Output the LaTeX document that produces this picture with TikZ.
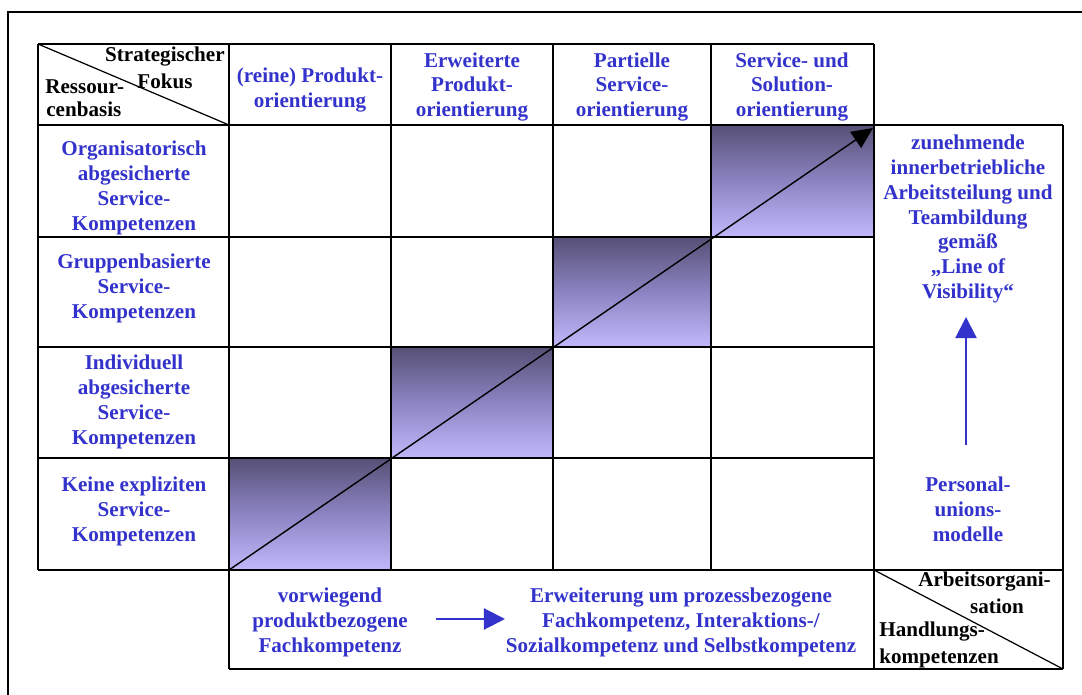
\documentclass[tikz,border=0pt]{standalone}
\usepackage{fontspec}
\setmainfont{Liberation Serif}
\usetikzlibrary{arrows.meta}
\definecolor{labelblue}{RGB}{51,51,204}
\definecolor{cellDark}{RGB}{86,80,118}
\definecolor{cellMid}{RGB}{140,132,194}
\definecolor{cellLight}{RGB}{192,184,250}
\tikzset{
  lbl/.style={align=center, inner sep=0pt, text=labelblue,
    font=\bfseries\fontsize{12}{14.2}\selectfont},
  corner/.style={inner sep=0pt, font=\bfseries\fontsize{12}{14.2}\selectfont},
  grid/.style={line width=0.7pt},
  stepcell/.style={top color=cellDark, bottom color=cellLight, middle color=cellMid},
  bluearrow/.style={labelblue, line width=1.2pt, -{Triangle[length=12pt, width=12pt]}}
}
\begin{document}
\begin{tikzpicture}[x=0.02cm, y=-0.02cm]
  \useasboundingbox (0,0) rectangle (1082,695);
  % Draw the outer frame.
  \draw[line width=1.2pt] (8,695) -- (8,12) -- (1082,12);
  % Shade the diagonal cells.
  \shade[stepcell] (229,458) rectangle (391,570);
  \shade[stepcell] (391,347) rectangle (553,458);
  \shade[stepcell] (553,237) rectangle (711,347);
  \shade[stepcell] (711,125) rectangle (874,237);
  % Draw the grid of the matrix.
  \draw[grid] (38,44) -- (874,44);
  \draw[grid] (38,125) -- (1063,125);
  \foreach \y in {237,347,458}
    \draw[grid] (38,\y) -- (874,\y);
  \draw[grid] (38,570) -- (1063,570);
  \draw[grid] (229,669) -- (1063,669);
  \draw[grid] (38,44) -- (38,570);
  \foreach \x in {391,553,711}
    \draw[grid] (\x,44) -- (\x,570);
  \draw[grid] (229,44) -- (229,669);
  \draw[grid] (874,44) -- (874,669);
  \draw[grid] (1063,125) -- (1063,669);
  % Split the two corner cells.
  \draw[grid] (38,44) -- (229,125);
  \draw[grid] (874,570) -- (1063,669);
  % Label the corner cells.
  \node[corner, anchor=east] (strat) at (225,57) {Strategischer};
  \node[corner] (fokus) at (165,81) {Fokus};
  \node[corner, anchor=west] (ress) at (45,87) {Ressour-};
  \node[corner, anchor=west] (cenb) at (46,109) {cenbasis};
  \node[corner, anchor=west] (arbo) at (918,582) {Arbeitsorgani-};
  \node[corner] (sati) at (997,606) {sation};
  \node[corner, anchor=west] (hand) at (879,632) {Handlungs-};
  \node[corner, anchor=west] (komp) at (879,658) {kompetenzen};
  % Label the columns.
  \node[lbl] (prod) at (310,90) {(reine) Produkt-\\orientierung};
  \node[lbl] (erwp) at (472,87) {Erweiterte\\Produkt-\\orientierung};
  \node[lbl] (part) at (632,87) {Partielle\\Service-\\orientierung};
  \node[lbl] (solu) at (792,87) {Service- und\\Solution-\\orientierung};
  % Label the rows.
  \node[lbl] (orga) at (134,188)
    {Organisatorisch\\abgesicherte\\Service-\\Kompetenzen};
  \node[lbl] (grup) at (134,288) {Gruppenbasierte\\Service-\\Kompetenzen};
  \node[lbl] (indi) at (134,402)
    {Individuell\\abgesicherte\\Service-\\Kompetenzen};
  \node[lbl] (kein) at (134,511) {Keine expliziten\\Service-\\Kompetenzen};
  % Label the right column and the bottom row.
  \node[lbl] (team) at (968,219) {zunehmende\\innerbetriebliche\\Arbeitsteilung und\\
    Teambildung\\gemäß\\„Line of\\Visibility“};
  \node[lbl] (pers) at (968,509) {Personal-\\unions-\\modelle};
  \node[lbl] (fach) at (330,622) {vorwiegend\\produktbezogene\\Fachkompetenz};
  \node[lbl] (erwe) at (681,622) {Erweiterung um prozessbezogene\\
    Fachkompetenz, Interaktions-/\\Sozialkompetenz und Selbstkompetenz};
  % Draw the arrows.
  \coordinate (diagfrom) at (229,570);
  \coordinate (diagto) at (873,128);
  \draw[line width=0.8pt, -{Triangle[length=12pt, width=11pt]}] (diagfrom) -- (diagto);
  \coordinate (upfrom) at (966,445);
  \coordinate (upto) at (966,317);
  \draw[bluearrow] (upfrom) -- (upto);
  \coordinate (rightfrom) at (436,619);
  \coordinate (rightto) at (505,619);
  \draw[bluearrow] (rightfrom) -- (rightto);
\end{tikzpicture}
\end{document}
